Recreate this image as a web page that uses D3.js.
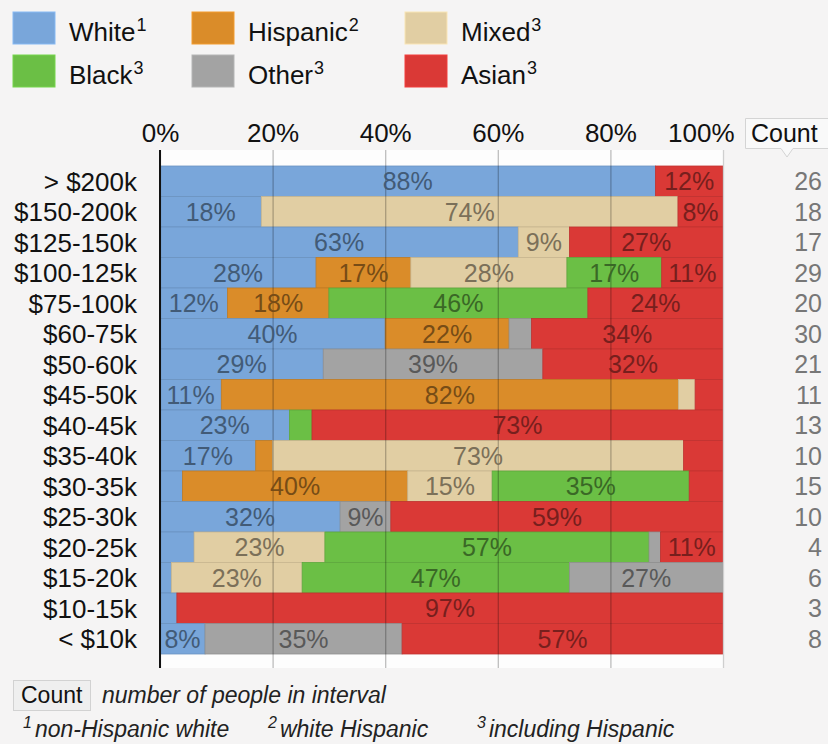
<!DOCTYPE html>
<html>
<head>
<meta charset="utf-8">
<script src="https://cdn.jsdelivr.net/npm/d3@7"></script>
<style>
  body { margin: 0; background: #f5f4f4; }
  svg { display: block; font-family: "Liberation Sans", Arial, sans-serif; }
</style>
</head>
<body>
<div id="chart"></div>
<script>

// income brackets, top to bottom
const categories = ["> $200k", "$150-200k", "$125-150k", "$100-125k", "$75-100k", "$60-75k",
  "$50-60k", "$45-50k", "$40-45k", "$35-40k", "$30-35k", "$25-30k", "$20-25k", "$15-20k",
  "$10-15k", "< $10k"];
const counts = [26, 18, 17, 29, 20, 30, 21, 11, 13, 10, 15, 10, 4, 6, 3, 8];

const groups = ["White", "Hispanic", "Mixed", "Black", "Other", "Asian"];
const groupNotes = ["1", "2", "3", "3", "3", "3"];
const groupColors = ["#79a6da", "#da8c29", "#e1cea3", "#6bbf45", "#a3a3a3", "#da3936"];

// percent of each bracket, one array per group
const white    = [88, 18, 63, 28, 12, 40, 29, 11, 23, 17,  4, 32,  6,  2,  3,  8];
const hispanic = [ 0,  0,  0, 17, 18, 22,  0, 82,  0,  3, 40,  0,  0,  0,  0,  0];
const mixed    = [ 0, 74,  9, 28,  0,  0,  0,  3,  0, 73, 15,  0, 23, 23,  0,  0];
const black    = [ 0,  0,  0, 17, 46,  0,  0,  0,  4,  0, 35,  0, 57, 47,  0,  0];
const other    = [ 0,  0,  0,  0,  0,  4, 39,  0,  0,  0,  0,  9,  2, 27,  0, 35];
const asian    = [12,  8, 27, 11, 24, 34, 32,  5, 73,  7,  6, 59, 11,  0, 97, 57];

const xTicks = [0, 20, 40, 60, 80, 100];
const footNotes = ["non-Hispanic white", "white Hispanic", "including Hispanic"];

const series = [white, hispanic, mixed, black, other, asian];
const width = 828, height = 744;

const svg = d3.select("#chart").append("svg")
  .attr("width", width)
  .attr("height", height);

// plot area
const x = d3.scaleLinear().domain([0, 100]).range([160, 723]);
const y = d3.scaleBand().domain(categories).range([166, 654]).padding(0);

svg.append("rect")
  .attr("x", x(0)).attr("y", 150)
  .attr("width", x(100) - x(0)).attr("height", 518)
  .attr("fill", "#fdfdfd");

// build stacked rows, normalised so every row reaches 100%
let rows = categories.map(function (c, i) {
  let total = d3.sum(series, s => s[i]);
  let acc = 0;
  let segs = [];
  series.forEach(function (s, g) {
    let v = s[i];
    if (v > 0) {
      segs.push({cat: c, group: g, value: v, x0: acc / total * 100, x1: (acc + v) / total * 100});
    }
    acc += v;
  });
  return segs;
});
let segments = rows.flat();

svg.append("g").selectAll("rect")
  .data(segments)
  .join("rect")
  .attr("x", d => x(d.x0))
  .attr("y", d => y(d.cat))
  .attr("width", d => x(d.x1) - x(d.x0))
  .attr("height", y.bandwidth())
  .attr("fill", d => groupColors[d.group])
  .attr("stroke", d => d3.color(groupColors[d.group]).darker(0.35))
  .attr("stroke-width", 0.8);

// gridlines + tick labels on top
let xAxis = svg.append("g")
  .attr("transform", "translate(0,150)")
  .call(d3.axisTop(x).tickValues(xTicks).tickFormat(d => d + "%")
    .tickSize(-518).tickPadding(8));
xAxis.select(".domain").remove();
xAxis.selectAll(".tick line")
  .attr("stroke", d => d == 100 ? "#cfcfcf" : "#000")
  .attr("stroke-opacity", d => d == 100 ? 1 : 0.25)
  .attr("stroke-width", 1.3);
xAxis.selectAll(".tick text")
  .attr("font-size", 26)
  .attr("font-family", "Liberation Sans, Arial, sans-serif")
  .attr("fill", "#111")
  .attr("text-anchor", d => d == 100 ? "end" : "middle")
  .attr("dx", d => d == 100 ? 11 : 0);

// zero axis
svg.append("line")
  .attr("x1", x(0)).attr("x2", x(0))
  .attr("y1", 150).attr("y2", 668)
  .attr("stroke", "#111").attr("stroke-width", 2);

// percentage labels inside bars
svg.append("g").selectAll("text")
  .data(segments.filter(d => d.value >= 8))
  .join("text")
  .attr("x", d => (x(d.x0) + x(d.x1)) / 2)
  .attr("y", d => y(d.cat) + y.bandwidth() / 2)
  .attr("dy", "0.36em")
  .attr("text-anchor", "middle")
  .attr("font-size", 25)
  .attr("fill", d => d3.color(groupColors[d.group]).darker(1.7))
  .text(d => d.value + "%");

// category labels
svg.append("g").selectAll("text")
  .data(categories)
  .join("text")
  .attr("x", 137)
  .attr("y", d => y(d) + y.bandwidth() / 2)
  .attr("dy", "0.36em")
  .attr("text-anchor", "end")
  .attr("font-size", 26)
  .attr("fill", "#111")
  .text(d => d);

// counts column
svg.append("g").selectAll("text")
  .data(counts)
  .join("text")
  .attr("x", 822)
  .attr("y", (d, i) => y(categories[i]) + y.bandwidth() / 2)
  .attr("dy", "0.36em")
  .attr("text-anchor", "end")
  .attr("font-size", 25)
  .attr("fill", "#777")
  .text(d => d);

// "Count" header box with pointer
svg.append("path")
  .attr("d", "M745.5,118.5 H840 V148.5 H793 L787,157 L781,148.5 H745.5 Z")
  .attr("fill", "#f9f9f9")
  .attr("stroke", "#d4d4d4");
svg.append("text")
  .attr("x", 751).attr("y", 142)
  .attr("font-size", 25).attr("fill", "#111")
  .text("Count");

// legend: row 1 White, Hispanic, Mixed; row 2 Black, Other, Asian
let legendX = [13, 192, 405];
let legendPos = [[0, 0], [1, 0], [2, 0], [0, 1], [1, 1], [2, 1]];
let legend = svg.append("g").selectAll("g")
  .data(groups)
  .join("g")
  .attr("transform", function (d, i) {
    let p = legendPos[i];
    return "translate(" + legendX[p[0]] + "," + (12 + p[1] * 43) + ")";
  });
legend.append("rect")
  .attr("width", 42).attr("height", 32)
  .attr("fill", (d, i) => groupColors[i])
  .attr("stroke", (d, i) => d3.color(groupColors[i]).brighter(0.3))
  .attr("stroke-width", 1);
let legendText = legend.append("text")
  .attr("x", 56).attr("y", 29)
  .attr("font-size", 26)
  .attr("fill", "#111");
legendText.append("tspan").text(d => d);
legendText.append("tspan")
  .attr("font-size", 18)
  .attr("dx", 1)
  .attr("dy", -10)
  .text((d, i) => groupNotes[i]);

// footer
svg.append("rect")
  .attr("x", 13.5).attr("y", 680.5)
  .attr("width", 77).attr("height", 30)
  .attr("fill", "#efefef").attr("stroke", "#d2d2d2");
svg.append("text")
  .attr("x", 21).attr("y", 703)
  .attr("font-size", 23).attr("fill", "#111")
  .text("Count");
svg.append("text")
  .attr("x", 102).attr("y", 703)
  .attr("font-size", 23).attr("font-style", "italic").attr("fill", "#222")
  .text("number of people in interval");

let noteX = [23, 268, 477];
footNotes.forEach(function (n, i) {
  let t = svg.append("text")
    .attr("x", noteX[i]).attr("y", 737)
    .attr("font-style", "italic").attr("fill", "#222");
  t.append("tspan").attr("font-size", 16).attr("dy", -9).text(String(i + 1));
  t.append("tspan").attr("font-size", 23).attr("dx", 3).attr("dy", 9).text(n);
});

</script>
</body>
</html>
